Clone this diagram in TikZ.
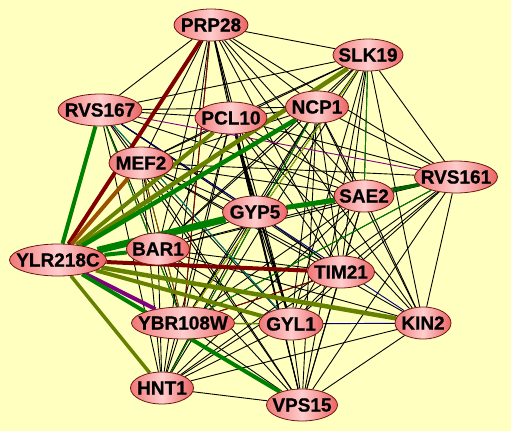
\documentclass[tikz,border=0pt]{standalone}
\usepackage{xcolor}
\usepackage{fontspec}
\setmainfont{Liberation Sans}
\newfontfamily\genefont{Liberation Sans Bold}[FakeBold=0.8]
\usepackage{tikz}
\usetikzlibrary{shapes.geometric, backgrounds}

\definecolor{paper}{RGB}{255,255,192}
\definecolor{maroonc}{RGB}{128,0,0}
\definecolor{greenc}{RGB}{0,128,0}
\definecolor{darkgreenc}{RGB}{0,100,0}
\definecolor{olivec}{RGB}{102,128,0}
\definecolor{brownc}{RGB}{153,80,0}
\definecolor{purplec}{RGB}{128,0,128}
\definecolor{navyc}{RGB}{0,0,128}
\definecolor{tealc}{RGB}{0,128,128}
\definecolor{limec}{RGB}{150,190,0}
\definecolor{genefillL}{RGB}{240,120,120}
\definecolor{genefillM}{RGB}{255,205,205}
\definecolor{genefillR}{RGB}{235,100,100}
\definecolor{generim}{RGB}{110,20,20}

\begin{document}
\begin{tikzpicture}[
    x=1pt, y=-1pt,
    gene/.style={ellipse, draw=generim, line width=0.8pt, left color=genefillL, right color=genefillR, middle color=genefillM,
                 inner xsep=-15pt, inner ysep=0pt, minimum height=32pt, minimum width=#1,
                 font=\genefont\fontsize{19}{19}\selectfont},
    link/.style={black, line width=0.9pt},
    hub/.style={line width=4pt},
    fine/.style={line width=0.9pt}
]

\useasboundingbox (0,0) rectangle (511,431);

% genes
\node[gene=74] (prp) at (211,25) {PRP28};
\node[gene=70] (slk) at (368,55) {SLK19};
\node[gene=84] (rvsa) at (100,110) {RVS167};
\node[gene=72] (pcl) at (231,118) {PCL10};
\node[gene=63] (ncp) at (317,107) {NCP1};
\node[gene=64] (mef) at (141,163) {MEF2};
\node[gene=83] (rvsb) at (456,177) {RVS161};
\node[gene=60] (sae) at (364,196) {SAE2};
\node[gene=65] (gyp) at (255,212) {GYP5};
\node[gene=97] (ylr) at (58,260) {YLR218C};
\node[gene=63] (bar) at (158,249) {BAR1};
\node[gene=67] (tim) at (341,272) {TIM21};
\node[gene=103] (ybr) at (183,323) {YBR108W};
\node[gene=64] (gyl) at (291,324) {GYL1};
\node[gene=56] (kin) at (423,323) {KIN2};
\node[gene=63] (hnt) at (162,388) {HNT1};
\node[gene=71] (vps) at (302,405) {VPS15};

\begin{scope}[on background layer]
\fill[paper] (0,0) rectangle (511,431);

% thin black interactions
\foreach \a/\others in {prp/{slk,rvsa,pcl,ncp,mef,rvsb,sae,gyp,bar,tim,ybr,gyl,kin,hnt,vps},
                        slk/{rvsa,pcl,ncp,mef,rvsb,sae,gyp,bar,tim,ybr,gyl,kin,hnt,vps},
                        rvsa/{pcl,ncp,mef,sae,gyp,bar,tim,ybr,gyl,hnt,vps},
                        pcl/{ncp,mef,rvsb,sae,gyp,bar,tim,ybr,gyl,kin,hnt,vps},
                        ncp/{mef,rvsb,sae,gyp,bar,tim,ybr,gyl,kin,hnt,vps},
                        mef/{rvsb,sae,gyp,bar,tim,ybr,gyl,kin,hnt,vps},
                        rvsb/{gyp,bar,tim,ybr,gyl,kin,hnt,vps},
                        sae/{bar,tim,ybr,gyl,kin,hnt,vps},
                        gyp/{bar,tim,ybr,gyl,hnt,vps},
                        bar/{tim,ybr,gyl,kin,hnt,vps},
                        tim/{ybr,gyl,hnt,vps},
                        ybr/{kin,hnt,vps},
                        gyl/{hnt,vps},
                        kin/{hnt,vps},
                        hnt/{vps}}
  \foreach \b in \others
    \draw[link] (\a) -- (\b);

\draw[link, line width=2pt] (pcl) -- (gyl);

% coloured interactions
\draw[fine, navyc] (rvsa) -- (kin);
\draw[fine, purplec] (rvsa) -- (rvsb);
\draw[fine, tealc] (rvsa) -- (gyl);
\draw[fine, greenc] (rvsa) -- (ybr);
\draw[fine, maroonc] (prp) -- (ybr);
\draw[fine, greenc] (slk) -- (sae);
\draw[fine, limec] (slk) -- (ybr);
\draw[fine, greenc] (ncp) -- (hnt);
\draw[fine, greenc] (rvsb) -- (ybr);
\draw[fine, brownc] (mef) -- (ybr);
\draw[fine, maroonc] (tim) -- (ybr);
\draw[fine, olivec, line width=1.5pt] (ybr) -- (gyl);
\draw[fine, navyc] (gyl) -- (kin);
\draw[fine, navyc] (gyp) -- (sae);
\draw[greenc, line width=5pt] (gyp) -- (sae);
\draw[darkgreenc, line width=3.5pt] (sae) -- (rvsb);

% YLR218C hub
\draw[hub, maroonc] (ylr) -- (prp);
\draw[hub, greenc] (ylr) -- (rvsa);
\draw[hub, brownc] (ylr) -- (mef);
\draw[hub, olivec] (ylr) -- (pcl);
\draw[hub, olivec, line width=4.5pt] (ylr) -- (slk);
\draw[hub, greenc, line width=4.5pt] (ylr) -- (ncp);
\draw[hub, greenc, line width=7pt] (ylr) -- (gyp);
\draw[hub, greenc] (ylr) -- (bar);
\draw[hub, maroonc] (ylr) -- (tim);
\draw[hub, olivec, line width=4.5pt] (ylr) -- (kin);
\draw[hub, olivec] (ylr) -- (gyl);
\draw[hub, purplec] (ylr) -- (ybr);
\draw[hub, greenc] (ylr) -- (vps);
\draw[hub, olivec, line width=3.5pt] (ylr) -- (hnt);
\end{scope}

\end{tikzpicture}
\end{document}
